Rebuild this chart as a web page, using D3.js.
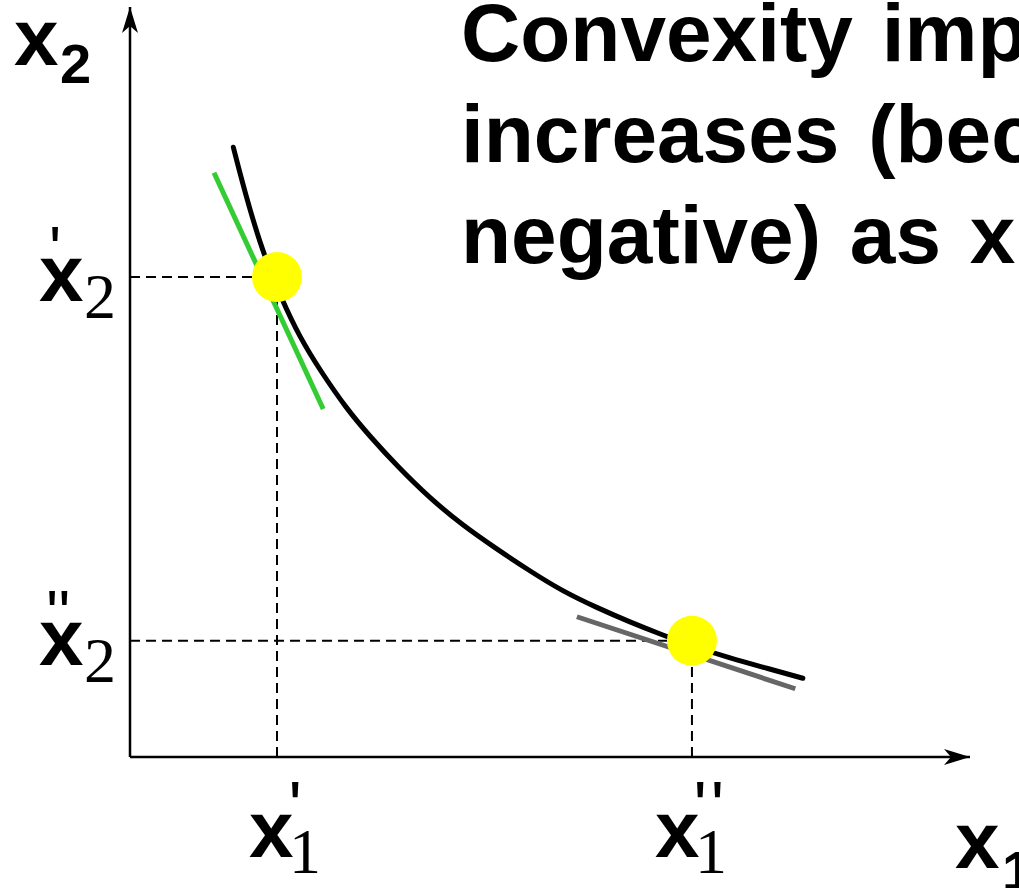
<!DOCTYPE html>
<html>
<head>
<meta charset="utf-8">
<script src="https://cdn.jsdelivr.net/npm/d3@7"></script>
<style>
  html, body { margin: 0; padding: 0; background: #fff; overflow: hidden; }
  svg { display: block; }
</style>
</head>
<body>
<svg id="chart" width="1019" height="888"></svg>
<script>
// ---- data (in axis units) ----
const curveX = [1.23, 1.37, 1.57, 1.81, 2.02, 2.26, 2.58, 2.86, 3.18, 3.57, 3.96, 4.37, 4.76, 5.15, 5.56, 5.95, 6.31, 6.69, 7.14, 7.56, 8.01];
const curveY = [8.13, 7.52, 6.76, 6.09, 5.60, 5.16, 4.64, 4.27, 3.88, 3.45, 3.09, 2.77, 2.48, 2.21, 1.99, 1.80, 1.64, 1.48, 1.32, 1.19, 1.05];
const pointX = [1.75, 6.69];
const pointY = [6.40, 1.55];
const tangentGreen = [[1.00, 7.79], [2.30, 4.64]];
const tangentGray  = [[5.32, 1.87], [7.92, 0.91]];
const xTickPrimes = ["'", "''"];
const yTickPrimes = ["'", "''"];
const xAxisLabel = ["x", "1"];
const yAxisLabel = ["x", "2"];
const titleLines = ["Convexity implies that the MRS", "increases (becomes less", "negative) as x"];
const titleTail = ["1", " increases"];

// ---- scales ----
const x = d3.scaleLinear().domain([0, 10]).range([130, 970]);
const y = d3.scaleLinear().domain([0, 10]).range([757, 7]);

const svg = d3.select("#chart");
const SANS = "'Liberation Sans', Arial, Helvetica, sans-serif";
const SERIF = "'Liberation Serif', 'Times New Roman', serif";

// arrow markers
const defs = svg.append("defs");
defs.append("marker").attr("id", "arrow")
  .attr("markerUnits", "userSpaceOnUse")
  .attr("viewBox", "-27 -9 29 18").attr("refX", 0).attr("refY", 0)
  .attr("markerWidth", 29).attr("markerHeight", 18)
  .attr("orient", "auto")
  .append("path").attr("d", "M0,0 L-26,-8 L-19,0 L-26,8 Z").attr("fill", "#000");

const g = svg.append("g");

// dashed guide lines
pointX.forEach((px, i) => {
  g.append("line").attr("x1", x(0)).attr("x2", x(px))
    .attr("y1", y(pointY[i])).attr("y2", y(pointY[i]))
    .attr("stroke", "#000").attr("stroke-width", 2).attr("stroke-dasharray", "10,6");
  g.append("line").attr("x1", x(px)).attr("x2", x(px))
    .attr("y1", y(0)).attr("y2", y(pointY[i]))
    .attr("stroke", "#000").attr("stroke-width", 2).attr("stroke-dasharray", "10,6");
});

// axes
g.append("line").attr("x1", x(0)).attr("y1", y(0)).attr("x2", x(10)).attr("y2", y(0))
  .attr("stroke", "#000").attr("stroke-width", 2.5).attr("marker-end", "url(#arrow)");
g.append("line").attr("x1", x(0)).attr("y1", y(0)).attr("x2", x(0)).attr("y2", y(10))
  .attr("stroke", "#000").attr("stroke-width", 2.5).attr("marker-end", "url(#arrow)");

// indifference curve
const pts = curveX.map((cx, i) => [cx, curveY[i]]);
const line = d3.line().x(d => x(d[0])).y(d => y(d[1])).curve(d3.curveBasis);
g.append("path").attr("d", line(pts)).attr("fill", "none")
  .attr("stroke", "#000").attr("stroke-width", 5).attr("stroke-linecap", "round");

// tangents
const straight = d3.line().x(d => x(d[0])).y(d => y(d[1]));
g.append("path").attr("d", straight(tangentGreen)).attr("stroke", "#33cc33").attr("stroke-width", 5).attr("fill", "none");
g.append("path").attr("d", straight(tangentGray)).attr("stroke", "#666666").attr("stroke-width", 5).attr("fill", "none");

// points
g.selectAll("circle.pt").data(pointX).join("circle").attr("class", "pt")
  .attr("cx", d => x(d)).attr("cy", (d, i) => y(pointY[i])).attr("r", 25)
  .attr("fill", "#ffff00");

// tick labels on y axis (x2', x2'')
pointY.forEach((py, i) => {
  const ty = y(py);
  const t = g.append("g").attr("font-family", SANS).attr("font-weight", "bold");
  t.append("text").attr("x", 39).attr("y", ty + 24).attr("font-size", 80).text("x");
  t.append("text").attr("x", 84).attr("y", ty + 41).attr("font-family", SERIF).attr("font-weight", "normal")
    .attr("font-size", 64).text("2");
  t.append("text").attr("x", i ? 46 : 49).attr("y", ty - 5).attr("font-size", 64).attr("font-weight", "normal")
    .text(yTickPrimes[i]);
});

// tick labels on x axis (x1', x1'')
const xLabelShift = [-28, -37];
const xPrimeShift = [11.5, 1.5];
pointX.forEach((px, i) => {
  const tx = x(px);
  const t = g.append("g").attr("font-family", SANS).attr("font-weight", "bold");
  t.append("text").attr("x", tx + xLabelShift[i]).attr("y", 857).attr("font-size", 80).text("x");
  t.append("text").attr("x", tx + xLabelShift[i] + 40).attr("y", 873).attr("font-family", SERIF).attr("font-weight", "normal")
    .attr("font-size", 64).text("1");
  t.append("text").attr("x", tx + xPrimeShift[i]).attr("y", 831).attr("font-size", 70).attr("font-weight", "normal")
    .attr("letter-spacing", 4).text(xTickPrimes[i]);
});

// axis titles
const at = g.append("g").attr("font-family", SANS).attr("font-weight", "bold");
at.append("text").attr("x", 14).attr("y", 65).attr("font-size", 80).text(yAxisLabel[0]);
at.append("text").attr("x", 60).attr("y", 83).attr("font-size", 56).text(yAxisLabel[1]);
at.append("text").attr("x", 955).attr("y", 868).attr("font-size", 80).text(xAxisLabel[0]);
at.append("text").attr("x", 1002).attr("y", 890).attr("font-size", 56).text(xAxisLabel[1]);

// title text
const tt = g.append("g").attr("font-family", SANS).attr("font-weight", "bold").attr("font-size", 82)
  .attr("word-spacing", 6);
titleLines.forEach((s, i) => {
  const te = tt.append("text").attr("x", 461).attr("y", 61 + i * 101).text(s);
  if (i === titleLines.length - 1) {
    te.append("tspan").attr("font-size", 57).attr("dy", 18).text(titleTail[0]);
    te.append("tspan").attr("dy", -18).text(titleTail[1]);
  }
});
</script>
</body>
</html>
